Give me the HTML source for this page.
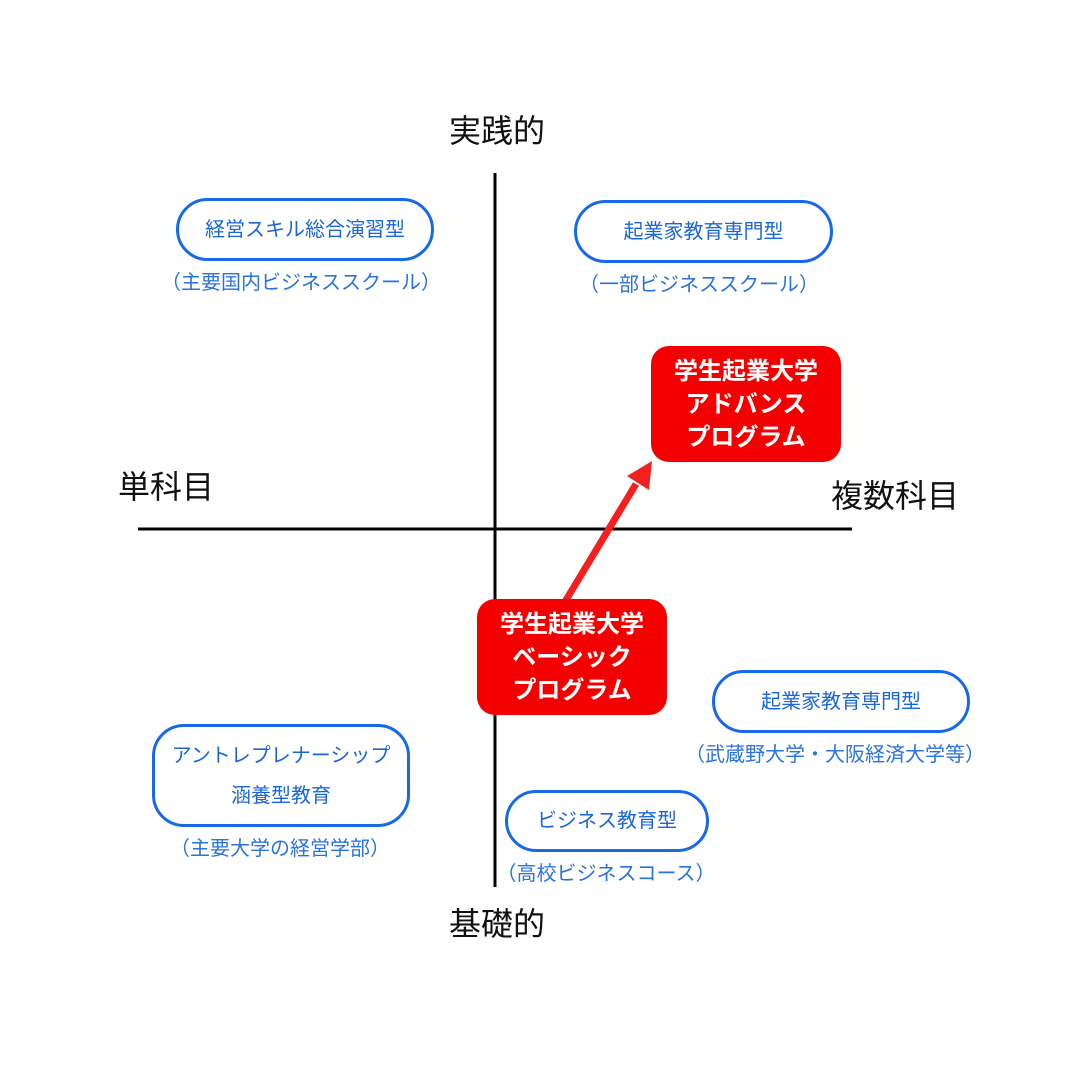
<!DOCTYPE html>
<html><head><meta charset="utf-8"><style>
body{margin:0;width:1080px;height:1080px;background:#fff;position:relative;overflow:hidden;font-family:"Liberation Sans","Noto Sans CJK JP",sans-serif;}
.ax{position:absolute;font-size:32px;color:#111;white-space:nowrap;line-height:1;}
.b{position:absolute;box-sizing:border-box;border:3px solid #1769e8;border-radius:32px;color:#1a66d8;font-size:20px;display:flex;align-items:center;justify-content:center;text-align:center;line-height:40px;}
.s{position:absolute;color:#2a72dc;font-size:20px;white-space:nowrap;transform:translateX(-50%);line-height:1;}
.r{position:absolute;box-sizing:border-box;background:#f40000;border-radius:18px;color:#fff;font-size:24px;display:flex;align-items:center;justify-content:center;text-align:center;line-height:33px;font-weight:bold;}
</style></head><body>
<svg width="1080" height="1080" style="position:absolute;left:0;top:0">
<line x1="495" y1="173" x2="495" y2="887" stroke="#000" stroke-width="3"/>
<line x1="138" y1="529" x2="852" y2="529" stroke="#000" stroke-width="3"/>
<line x1="563" y1="605" x2="636" y2="484" stroke="#f42020" stroke-width="7"/>
<polygon points="652,461 627,476 649,490" fill="#f42020"/>
</svg>
<div class="ax" style="left:449px;top:115px">実践的</div>
<div class="ax" style="left:449px;top:908px">基礎的</div>
<div class="ax" style="left:118px;top:471px">単科目</div>
<div class="ax" style="left:831px;top:480px">複数科目</div>

<div class="b" style="left:176px;top:198px;width:258px;height:63px">経営スキル総合演習型</div>
<div class="s" style="left:301px;top:273px">（主要国内ビジネススクール）</div>
<div class="b" style="left:574px;top:200px;width:259px;height:63px">起業家教育専門型</div>
<div class="s" style="left:699px;top:275px">（一部ビジネススクール）</div>
<div class="b" style="left:712px;top:670px;width:258px;height:63px">起業家教育専門型</div>
<div class="s" style="left:835px;top:745px">（武蔵野大学・大阪経済大学等）</div>
<div class="b" style="left:152px;top:724px;width:258px;height:103px">アントレプレナーシップ<br>涵養型教育</div>
<div class="s" style="left:280px;top:839px">（主要大学の経営学部）</div>
<div class="b" style="left:505px;top:790px;width:204px;height:62px">ビジネス教育型</div>
<div class="s" style="left:606px;top:864px">（高校ビジネスコース）</div>

<div class="r" style="left:651px;top:346px;width:190px;height:116px">学生起業大学<br>アドバンス<br>プログラム</div>
<div class="r" style="left:477px;top:599px;width:190px;height:116px">学生起業大学<br>ベーシック<br>プログラム</div>
</body></html>
